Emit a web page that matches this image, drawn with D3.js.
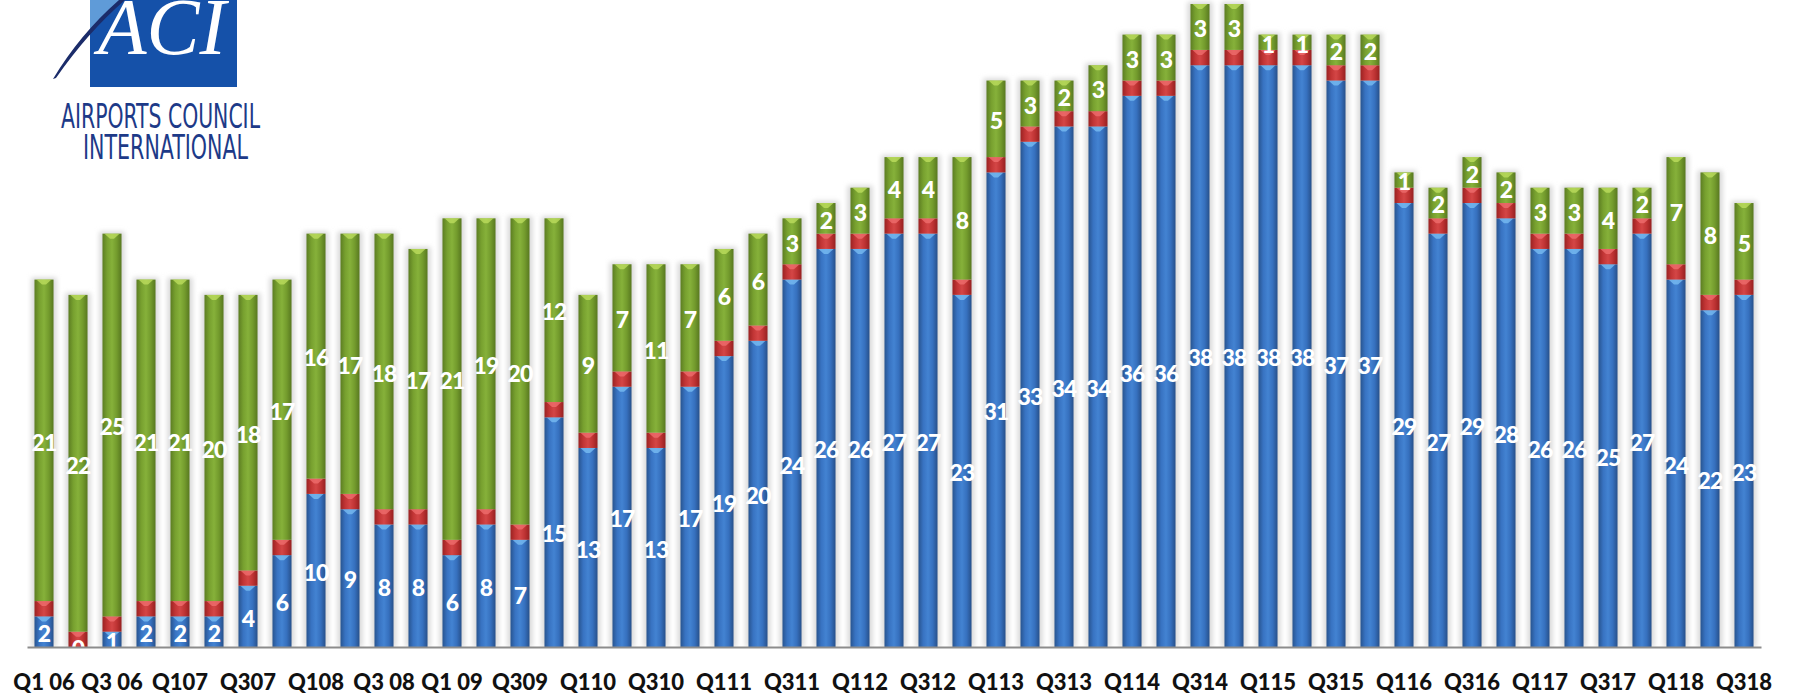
<!DOCTYPE html>
<html>
<head>
<meta charset="utf-8">
<script src="https://cdn.jsdelivr.net/npm/d3@7/dist/d3.min.js"></script>
<style>
  html, body { margin: 0; padding: 0; background: #fff; }
  svg { display: block; }
</style>
</head>
<body>
<svg id="chart" width="1797" height="697"></svg>
<script>

// quarters, first quarter 2006 to third quarter 2018
var categories = ["Q1 06","Q2 06","Q3 06","Q4 06","Q1 07","Q2 07","Q3 07","Q4 07",
                  "Q1 08","Q2 08","Q3 08","Q4 08","Q1 09","Q2 09","Q3 09","Q4 09",
                  "Q1 10","Q2 10","Q3 10","Q4 10","Q1 11","Q2 11","Q3 11","Q4 11",
                  "Q1 12","Q2 12","Q3 12","Q4 12","Q1 13","Q2 13","Q3 13","Q4 13",
                  "Q1 14","Q2 14","Q3 14","Q4 14","Q1 15","Q2 15","Q3 15","Q4 15",
                  "Q1 16","Q2 16","Q3 16","Q4 16","Q1 17","Q2 17","Q3 17","Q4 17",
                  "Q1 18","Q2 18","Q3 18"]

// text under the axis, every other quarter
var tickLabels = ["Q1 06","","Q3 06","","Q107","","Q307","",
                  "Q108","","Q3 08","","Q1 09","","Q309","",
                  "Q110","","Q310","","Q111","","Q311","",
                  "Q112","","Q312","","Q113","","Q313","",
                  "Q114","","Q314","","Q115","","Q315","",
                  "Q116","","Q316","","Q117","","Q317","",
                  "Q118","","Q318"]

var blueVals  = [2,0,1,2,2,2,4,6, 10,9,8,8,6,8,7,15, 13,17,13,17,19,20,24,26,
                 26,27,27,23,31,33,34,34, 36,36,38,38,38,38,37,37,
                 29,27,29,28,26,26,25,27, 24,22,23]

var redVals   = [1,1,1,1,1,1,1,1, 1,1,1,1,1,1,1,1, 1,1,1,1,1,1,1,1,
                 1,1,1,1,1,1,1,1, 1,1,1,1,1,1,1,1,
                 1,1,1,1,1,1,1,1, 1,1,1]

var greenVals = [21,22,25,21,21,20,18,17, 16,17,18,17,21,19,20,12, 9,7,11,7,6,6,3,2,
                 3,4,4,8,5,3,2,3, 3,3,3,3,1,1,2,2,
                 1,2,2,2,3,3,4,2, 7,8,5]

var svg = d3.select("#chart")

var baseY = 647
var x = d3.scaleBand()
          .domain(categories)
          .range([27, 1761])
          .paddingInner(0.44)
          .paddingOuter(0.22)

var y = d3.scaleLinear()
          .domain([0, 42])
          .range([baseY, 4])

var rows = categories.map(function(c, i) {
    return {cat: c, blue: blueVals[i], red: redVals[i], green: greenVals[i]}
})

var stack = d3.stack().keys(["blue", "red", "green"])
var series = stack(rows)

// gradients for the cylinder look
var defs = svg.append("defs")
var colours = {
    blue:  ["#28548f", "#3873c2", "#4383d2", "#3670be", "#27508a"],
    red:   ["#9a2222", "#c23535", "#d44646", "#be3333", "#962020"],
    green: ["#5c7d22", "#77a02f", "#86b13a", "#739b2d", "#587820"]
}
var caps = {blue: "#7cc0f4", red: "#f07070", green: "#c0e060"}

Object.keys(colours).forEach(function(k) {
    var g = defs.append("linearGradient")
                .attr("id", "grad-" + k)
                .attr("x1", "0%").attr("x2", "100%")
                .attr("y1", "0%").attr("y2", "0%")
    colours[k].forEach(function(c, i) {
        g.append("stop")
         .attr("offset", (i * 25) + "%")
         .attr("stop-color", c)
    })
})

defs.append("filter")
    .attr("id", "soft")
    .attr("x", "-50%").attr("width", "200%")
    .append("feGaussianBlur")
    .attr("stdDeviation", 2.5)

// faint grey shadow behind each bar
svg.append("g")
   .selectAll("rect")
     .data(rows)
   .enter().append("rect")
     .attr("x", function(d) { return x(d.cat) - 3 })
     .attr("width", x.bandwidth() + 6)
     .attr("y", function(d) { return y(d.blue + d.red + d.green) - 2 })
     .attr("height", function(d) { return baseY - y(d.blue + d.red + d.green) + 2 })
     .attr("fill", "#d8d8d8")
     .attr("filter", "url(#soft)")

var layer = svg.selectAll("g.layer")
                 .data(series)
               .enter().append("g")
                 .attr("class", "layer")

layer.selectAll("rect")
       .data(function(s) { return s.map(function(p) { p.key = s.key; return p }) })
     .enter().append("rect")
       .attr("x", function(d) { return x(d.data.cat) })
       .attr("width", x.bandwidth())
       .attr("y", function(d) { return y(d[1]) })
       .attr("height", function(d) { return y(d[0]) - y(d[1]) })
       .attr("fill", function(d) { return "url(#grad-" + d.key + ")" })

// light bevel at the top of every segment
layer.selectAll("path")
       .data(function(s) { return s.filter(function(p) { return p[1] > p[0] }) })
     .enter().append("path")
       .attr("d", function(d) {
           var x0 = x(d.data.cat), w = x.bandwidth(), t = y(d[1])
           return "M" + (x0 + 2) + "," + t + "L" + (x0 + w - 2) + "," + t +
                  "L" + (x0 + w / 2 + 2) + "," + (t + 5) + "L" + (x0 + w / 2 - 2) + "," + (t + 5) + "Z"
       })
       .attr("fill", function(d) { return caps[d.key] })
       .attr("opacity", 0.75)

// value labels on blue and green parts
var labelled = series.filter(function(s) { return s.key != "red" })
svg.append("g")
   .selectAll("g")
     .data(labelled)
   .enter().append("g")
   .selectAll("text")
     .data(function(s) { return s })
   .enter().append("text")
     .attr("x", function(d) { return x(d.data.cat) + x.bandwidth() / 2 })
     .attr("y", function(d) { return (y(d[0]) + y(d[1])) / 2 + 2 })
     .attr("dy", "0.36em")
     .attr("text-anchor", "middle")
     .attr("fill", "#fff")
     .style("font-family", "Lato, 'Open Sans', sans-serif")
     .style("font-weight", "900")
     .style("font-size", "23px")
     .style("letter-spacing", "-0.8px")
     .text(function(d) { return d[1] - d[0] })

// white strip under baseline hides label parts below the bars
svg.append("rect")
   .attr("x", 0).attr("y", baseY)
   .attr("width", 1797).attr("height", 20)
   .attr("fill", "#fff")

var xAxis = d3.axisBottom(x)
              .tickSize(0)
              .tickFormat(function(d, i) { return tickLabels[i] })

var gx = svg.append("g")
            .attr("transform", "translate(0," + baseY + ")")
            .call(xAxis)

gx.select(".domain")
  .attr("stroke", "#8c8c8c")
  .attr("stroke-width", 2)

gx.selectAll("text")
  .attr("y", 43)
  .attr("dy", 0)
  .attr("fill", "#111")
  .style("font-family", "Lato, 'Open Sans', sans-serif")
  .style("font-weight", "900")
  .style("font-size", "22px")

// ACI logo
var logo = svg.append("g")
logo.append("rect")
    .attr("x", 90).attr("y", 0)
    .attr("width", 147).attr("height", 87)
    .attr("fill", "#1551a9")
logo.append("path")
    .attr("d", "M90,0L121,0Q102,16 90,30Z")
    .attr("fill", "#5f9bd8")
logo.append("text")
    .attr("x", 98).attr("y", 54)
    .attr("textLength", 128)
    .attr("lengthAdjust", "spacingAndGlyphs")
    .attr("fill", "#fff")
    .style("font-family", "'Liberation Serif', serif")
    .style("font-style", "italic")
    .style("font-size", "80px")
    .text("ACI")
logo.append("path")
    .attr("d", "M53,79Q80,34 119,0L125,0Q88,32 56,78Z")
    .attr("fill", "#1b2c6a")
logo.append("text")
    .attr("x", 61).attr("y", 128)
    .attr("textLength", 199)
    .attr("lengthAdjust", "spacingAndGlyphs")
    .attr("fill", "#1d3a88")
    .style("font-family", "'DejaVu Sans Condensed', 'DejaVu Sans', sans-serif")
    .style("font-size", "34px")
    .text("AIRPORTS COUNCIL")
logo.append("text")
    .attr("x", 83).attr("y", 159)
    .attr("textLength", 165)
    .attr("lengthAdjust", "spacingAndGlyphs")
    .attr("fill", "#1d3a88")
    .style("font-family", "'DejaVu Sans Condensed', 'DejaVu Sans', sans-serif")
    .style("font-size", "33px")
    .text("INTERNATIONAL")

</script>
</body>
</html>
